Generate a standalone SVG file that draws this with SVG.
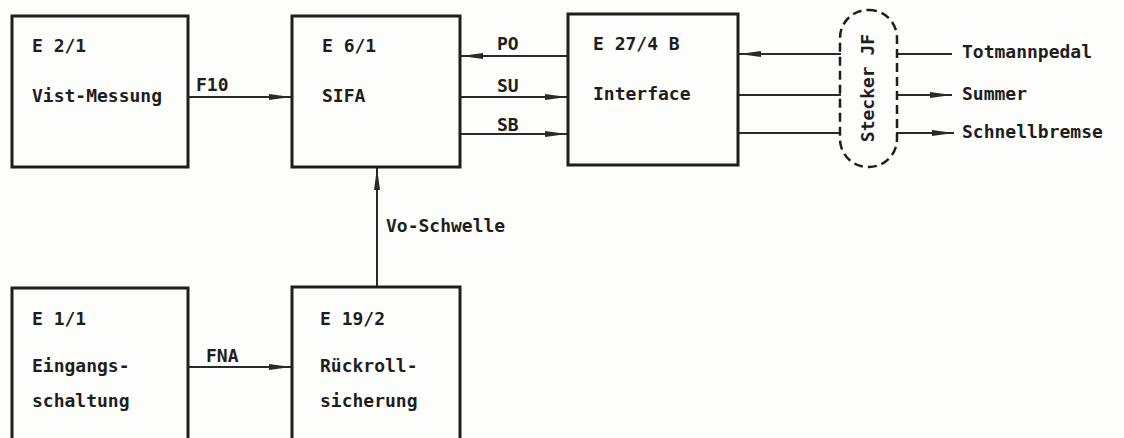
<svg xmlns="http://www.w3.org/2000/svg" width="1124" height="438" viewBox="0 0 1124 438">
<style>
.box{fill:none;stroke:#1e1e1e;stroke-width:3}
.ln{fill:none;stroke:#2a2a2a;stroke-width:2}
.t{font-family:"DejaVu Sans Mono",monospace;font-weight:bold;font-size:18px;fill:#1e1e1e}
.dash{fill:none;stroke:#1e1e1e;stroke-width:2.5;stroke-dasharray:9 5}
</style>
<defs>
<marker id="ah" viewBox="0 0 22 8" refX="22" refY="4" markerWidth="22" markerHeight="8" markerUnits="userSpaceOnUse" orient="auto">
<path d="M0,1 L22,4 L0,7 Z" fill="#2a2a2a"/>
</marker>
</defs>
<rect width="1124" height="438" fill="#fdfdfb"/>
<g id="connectors">
<line class="ln" x1="188" y1="97" x2="291" y2="97" marker-end="url(#ah)"/>
<line class="ln" x1="568" y1="56" x2="461" y2="56" marker-end="url(#ah)"/>
<line class="ln" x1="460" y1="97" x2="567" y2="97" marker-end="url(#ah)"/>
<line class="ln" x1="460" y1="134" x2="567" y2="134" marker-end="url(#ah)"/>
<line class="ln" x1="377" y1="287" x2="377" y2="168" marker-end="url(#ah)"/>
<line class="ln" x1="188" y1="367" x2="291" y2="367" marker-end="url(#ah)"/>
<line class="ln" x1="841" y1="54" x2="739" y2="54" marker-end="url(#ah)"/>
<line class="ln" x1="738" y1="95" x2="841" y2="95"/>
<line class="ln" x1="738" y1="133" x2="841" y2="133"/>
<line class="ln" x1="896" y1="54" x2="952" y2="54"/>
<line class="ln" x1="896" y1="95" x2="952" y2="95" marker-end="url(#ah)"/>
<line class="ln" x1="896" y1="133" x2="954" y2="133" marker-end="url(#ah)"/>
<text class="t" x="196" y="91">F10</text>
<text class="t" x="497" y="50">PO</text>
<text class="t" x="497" y="92">SU</text>
<text class="t" x="497" y="131">SB</text>
<text class="t" x="386" y="232">Vo-Schwelle</text>
<text class="t" x="206" y="362">FNA</text>
<text class="t" x="962" y="58">Totmannpedal</text>
<text class="t" x="962" y="100">Summer</text>
<text class="t" x="962" y="138">Schnellbremse</text>
</g>
<g id="n1">
<rect class="box" x="12" y="16" width="176" height="151"/>
<text class="t" x="32" y="52">E 2/1</text>
<text class="t" x="32" y="102">Vist-Messung</text>
</g>
<g id="n2">
<rect class="box" x="292" y="16" width="168" height="151"/>
<text class="t" x="322" y="52">E 6/1</text>
<text class="t" x="322" y="102">SIFA</text>
</g>
<g id="n3">
<rect class="box" x="568" y="14" width="170" height="151"/>
<text class="t" x="593" y="50">E 27/4 B</text>
<text class="t" x="593" y="100">Interface</text>
</g>
<g id="n4">
<rect class="dash" x="840" y="10" width="57" height="157" rx="28" ry="28"/>
<text class="t" transform="translate(874,88) rotate(-90)" text-anchor="middle">Stecker JF</text>
</g>
<g id="n5">
<rect class="box" x="12" y="288" width="176" height="160"/>
<text class="t" x="32" y="325">E 1/1</text>
<text class="t" x="32" y="372">Eingangs-</text>
<text class="t" x="32" y="407">schaltung</text>
</g>
<g id="n6">
<rect class="box" x="292" y="287" width="168" height="160"/>
<text class="t" x="320" y="325">E 19/2</text>
<text class="t" x="320" y="372">Rückroll-</text>
<text class="t" x="320" y="407">sicherung</text>
</g>
</svg>
